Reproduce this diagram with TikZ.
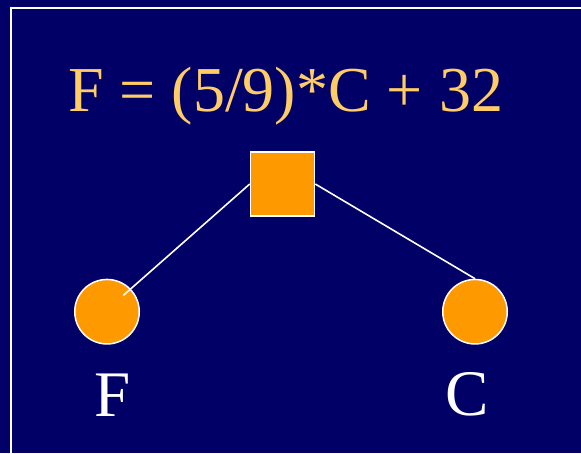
\documentclass[tikz,border=0pt]{standalone}
\usepackage{fontspec}
\setmainfont{Liberation Serif}
\usetikzlibrary{calc}
\definecolor{slidebg}{HTML}{000066}
\definecolor{titlegold}{HTML}{FFCC66}
\definecolor{nodeorange}{HTML}{FF9900}
\begin{document}
\begin{tikzpicture}[x=1pt,y=-1pt,
  every node/.style={inner sep=0pt,font=\fontsize{65}{70}\selectfont},
  opbox/.style={draw=white,line width=1.5pt,fill=nodeorange,minimum size=64pt},
  varnode/.style={circle,draw=white,line width=1.5pt,fill=nodeorange,minimum size=64.5pt},
  link/.style={white,line width=1.6pt}]
\useasboundingbox[fill=slidebg] (0,0) rectangle (581,453);
\draw[white,line width=2.2pt] (11,470) -- (11,8) -- (600,8);
\node[titlegold,anchor=base west,font=\fontsize{64}{70}\selectfont] (eqn) at (68,111.5) {F = (5/9)*C + 32};
\node[opbox] (op) at (282.5,184) {};
\node[varnode] (varF) at (107,311.7) {};
\node[varnode] (varC) at (475,311.7) {};
\draw[link] (op.west) -- ($(varF.center)!0.7!(varF.north east)$);
\draw[link] (op.east) -- (varC.north);
\node[white,anchor=base] (labF) at (113,416) {F};
\node[white,anchor=base] (labC) at (467,415) {C};
\end{tikzpicture}
\end{document}
